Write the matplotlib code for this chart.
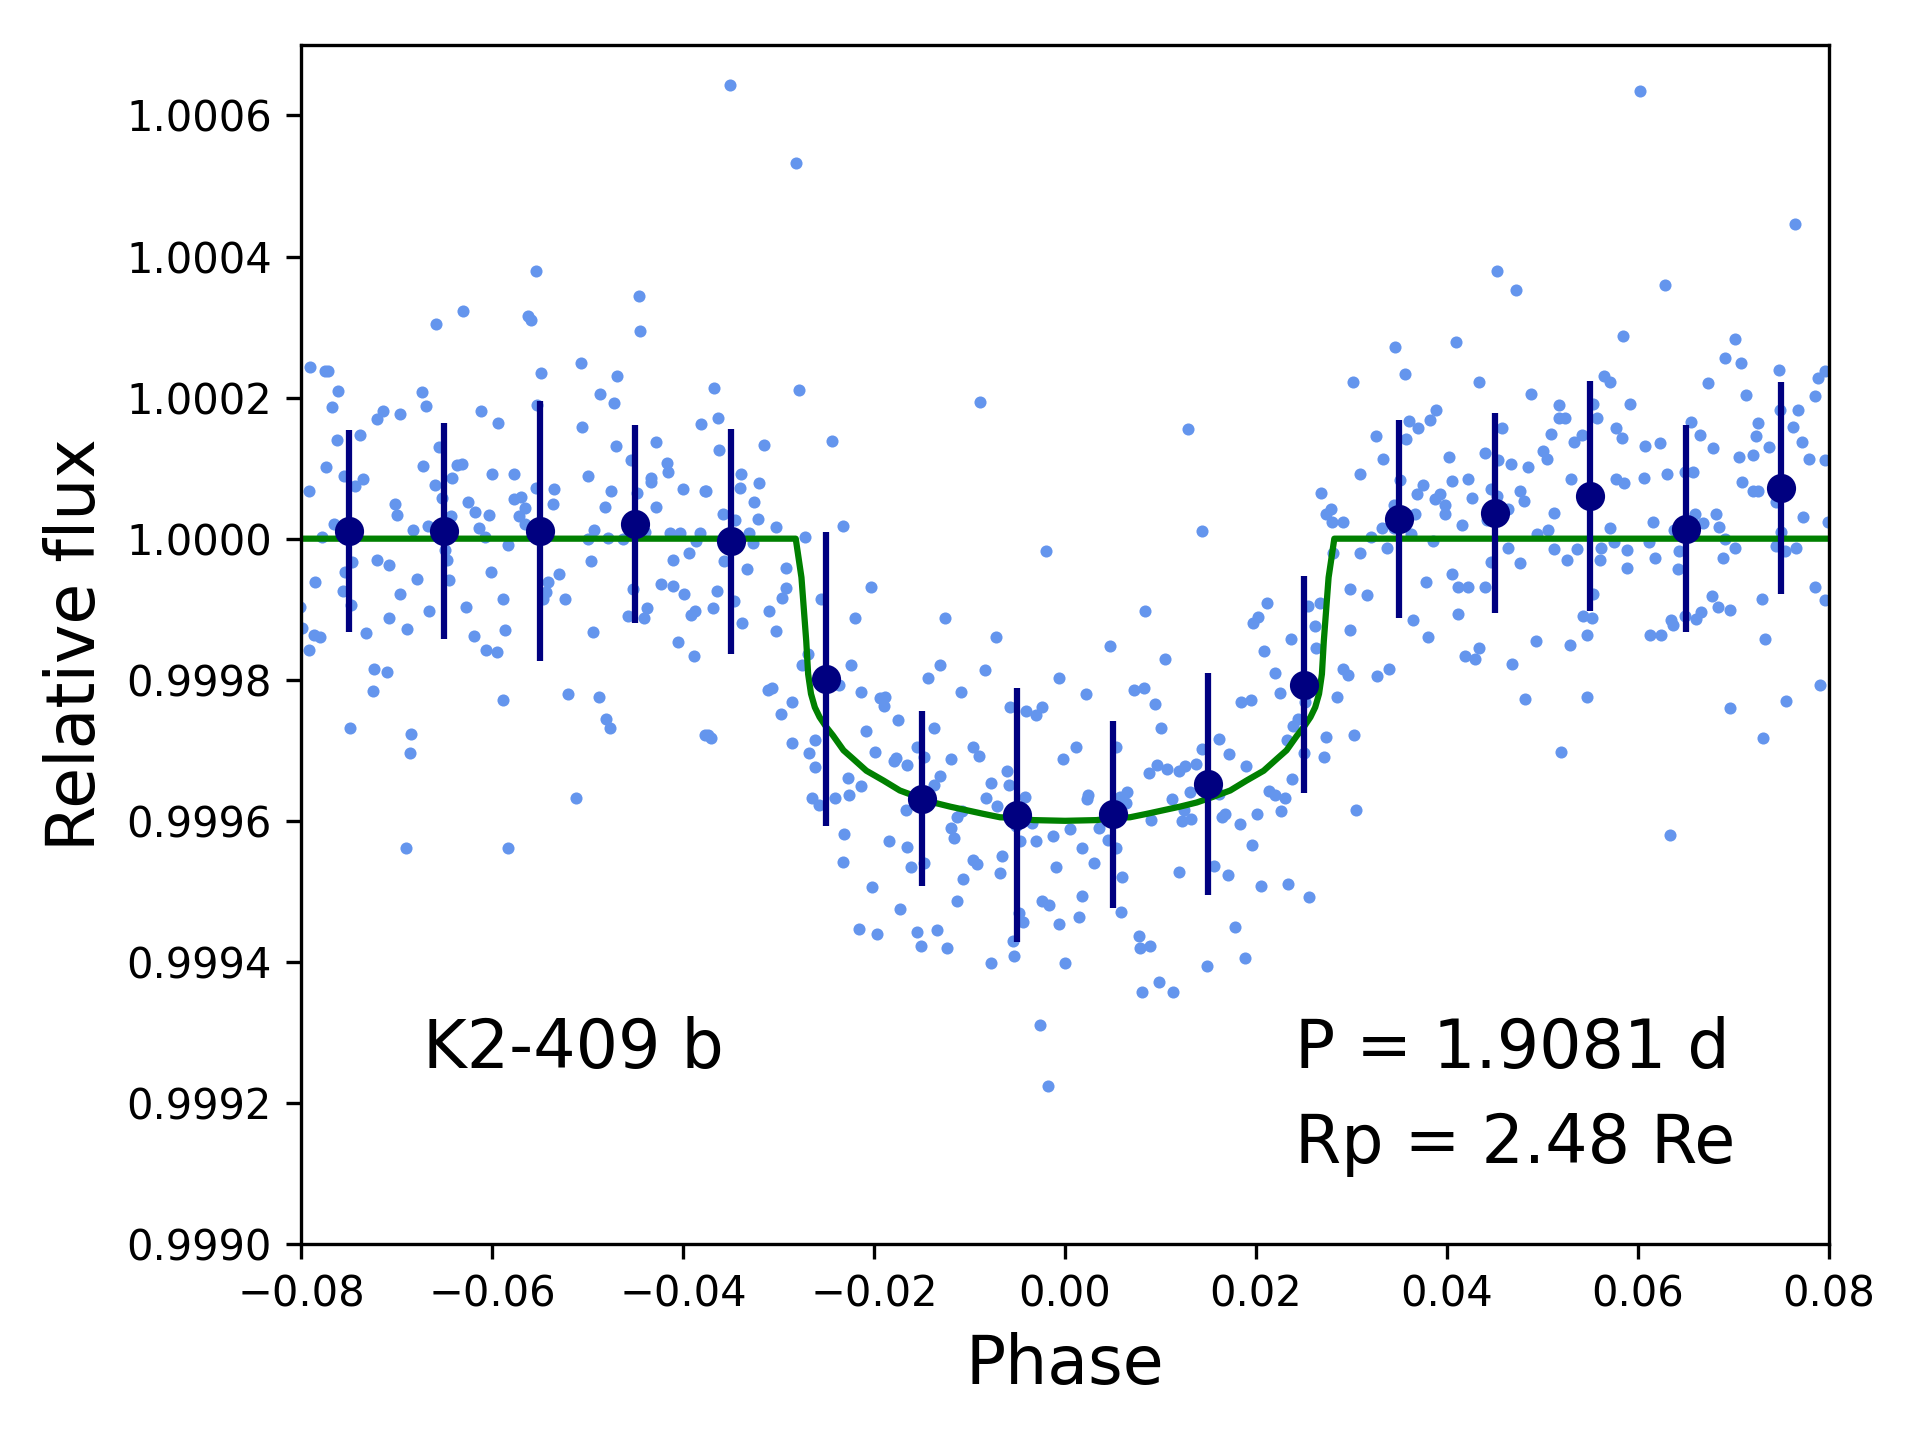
import matplotlib
matplotlib.use('Agg')

import numpy as np
import matplotlib.pyplot as plt
from matplotlib.ticker import FormatStrFormatter

# phase-folded light curve, flux given as deviation in ppm
phase = [
    -0.0554, -0.0446, -0.0630, -0.0659, -0.0562, -0.0559, -0.0445, -0.0791, -0.0775, -0.0772,
    -0.0549, -0.0507, -0.0469, -0.0761, -0.0673, -0.0487, -0.0768, -0.0669, -0.0612, -0.0472,
    -0.0553, -0.0714, -0.0720, -0.0696, -0.0594, -0.0506, -0.0381, -0.0762, -0.0738, -0.0656,
    -0.0470, -0.0428, -0.0454, -0.0774, -0.0672, -0.0637, -0.0631, -0.0600, -0.0577, -0.0499,
    -0.0417, -0.0416, -0.0755, -0.0743, -0.0735, -0.0642, -0.0660, -0.0434, -0.0434, -0.0792,
    -0.0554, -0.0535, -0.0475, -0.0448, -0.0400, -0.0377, -0.0702, -0.0700, -0.0652, -0.0625,
    -0.0618, -0.0603, -0.0577, -0.0570, -0.0565, -0.0572, -0.0565, -0.0536, -0.0482, -0.0428,
    -0.0766, -0.0683, -0.0667, -0.0643, -0.0614, -0.0607, -0.0493, -0.0500, -0.0479, -0.0463,
    -0.0440, -0.0414, -0.0403, -0.0382, -0.0386, -0.0778, -0.0583, -0.0649, -0.0647, -0.0747,
    -0.0754, -0.0720, -0.0708, -0.0601, -0.0496, -0.0411, -0.0394, -0.0530, -0.0541, -0.0543,
    -0.0547, -0.0524, -0.0589, -0.0679, -0.0645, -0.0785, -0.0423, -0.0410, -0.0399, -0.0452,
    -0.0756, -0.0748, -0.0696, -0.0666, -0.0627, -0.0438, -0.0458, -0.0441, -0.0392, -0.0387,
    -0.0708, -0.0799, -0.0786, -0.0780, -0.0732, -0.0689, -0.0586, -0.0619, -0.0494, -0.0405,
    -0.0792, -0.0606, -0.0595, -0.0801,
    -0.0351, -0.0282,
    -0.0389, -0.0724, -0.0710, -0.0725, -0.0589, -0.0520, -0.0488, -0.0481, -0.0476, -0.0749,
    -0.0685, -0.0686, -0.0377, -0.0512, -0.0690, -0.0583,
    -0.0368, -0.0279, -0.0089, -0.0363, -0.0315, -0.0244, -0.0362, -0.0339, -0.0340, -0.0320,
    -0.0376, -0.0326, -0.0358, -0.0346, -0.0321, -0.0303, -0.0233, -0.0331, -0.0327, -0.0272,
    -0.0020, -0.0357, -0.0333, -0.0292, -0.0203, -0.0364, -0.0292, -0.0296, -0.0256, -0.0347,
    -0.0369, -0.0310, -0.0220, -0.0126, -0.0338, -0.0303, -0.0072, 0.0047,
    -0.0269, -0.0275, -0.0224, -0.0131, -0.0144, -0.0084, -0.0006, -0.0237, -0.0311, -0.0307,
    -0.0286, -0.0214, -0.0194, -0.0189, -0.0190, -0.0109, 0.0022, -0.0058, -0.0041, -0.0030,
    -0.0024, -0.0297, -0.0175, -0.0137, -0.0374, -0.0371, -0.0208, -0.0286, -0.0262, -0.0268,
    -0.0262, -0.0199, -0.0179, -0.0177, -0.0165, -0.0155, -0.0148, -0.0119, -0.0096, -0.0090,
    0.0012, -0.0002, -0.0227, -0.0214, -0.0131, -0.0137, -0.0061, -0.0059, -0.0078, -0.0042,
    0.0024, 0.0023, -0.0265, -0.0258, -0.0241, -0.0226, -0.0083, -0.0071, -0.0167, -0.0113,
    -0.0108, -0.0119, -0.0116, -0.0051, -0.0035, -0.0047, -0.0030, -0.0013, 0.0005, 0.0036,
    0.0045, -0.0231, -0.0184, -0.0166, -0.0232, -0.0161, -0.0148, -0.0096, -0.0092, -0.0066,
    -0.0068, -0.0009, 0.0018, 0.0030, -0.0202, -0.0107, -0.0113, -0.0173, -0.0024, -0.0017,
    0.0018, -0.0048, -0.0044, -0.0006, 0.0015, -0.0216, -0.0197, -0.0155, -0.0134, -0.0151,
    -0.0124, -0.0054, -0.0053, -0.0077, 0.0000, -0.0026, -0.0018,
    0.0105, 0.0208, 0.0263, 0.0419, 0.0429, 0.0434, 0.0468, 0.0291, 0.0296, 0.0327,
    0.0339, 0.0220, 0.0225, 0.0285, 0.0072, 0.0083, 0.0094, 0.0184, 0.0195, 0.0251,
    0.0101, 0.0244, 0.0239, 0.0232, 0.0273, 0.0303, 0.0053, 0.0161, 0.0143, 0.0172,
    0.0250, 0.0271, 0.0190, 0.0096, 0.0088, 0.0107, 0.0119, 0.0126, 0.0137, 0.0238,
    0.0065, 0.0058, 0.0064, 0.0112, 0.0131, 0.0161, 0.0214, 0.0220, 0.0230, 0.0226,
    0.0305, 0.0090, 0.0125, 0.0123, 0.0132, 0.0164, 0.0167, 0.0183, 0.0201, 0.0053,
    0.0196, 0.0119, 0.0156, 0.0171, 0.0205, 0.0233, 0.0256, 0.0060, 0.0059, 0.0077,
    0.0078, 0.0089, 0.0178, 0.0188, 0.0149, 0.0098, 0.0081, 0.0113,
    0.0346, 0.0409, 0.0356, 0.0302, 0.0433, 0.0388, 0.0360, 0.0370, 0.0382, 0.0357,
    0.0326, 0.0458, 0.0129, 0.0333, 0.0402, 0.0440, 0.0453, 0.0467, 0.0309, 0.0351,
    0.0405, 0.0422, 0.0375, 0.0369, 0.0393, 0.0387, 0.0426, 0.0446, 0.0452, 0.0398,
    0.0398, 0.0344, 0.0367, 0.0464, 0.0442, 0.0268, 0.0278, 0.0273, 0.0280, 0.0291,
    0.0332, 0.0344, 0.0320, 0.0362, 0.0385, 0.0416, 0.0281, 0.0309, 0.0337, 0.0464,
    0.0446, 0.0143, 0.0378, 0.0405, 0.0412, 0.0422, 0.0440, 0.0298, 0.0316, 0.0411,
    0.0364, 0.0298, 0.0380, 0.0084, 0.0212, 0.0202, 0.0197, 0.0254, 0.0267, 0.0262,
    0.0237,
    0.0602, 0.0764, 0.0452, 0.0472, 0.0628, 0.0584, 0.0702,
    0.0691, 0.0708, 0.0748, 0.0796, 0.0789, 0.0785, 0.0673, 0.0713, 0.0564, 0.0571,
    0.0488, 0.0517, 0.0553, 0.0592, 0.0517, 0.0524, 0.0557, 0.0749, 0.0768, 0.0655,
    0.0726, 0.0762, 0.0509, 0.0541, 0.0533, 0.0577, 0.0583, 0.0665, 0.0724, 0.0772,
    0.0500, 0.0505, 0.0485, 0.0607, 0.0623, 0.0679, 0.0706, 0.0720, 0.0737, 0.0779,
    0.0796, 0.0530, 0.0577, 0.0585, 0.0606, 0.0630, 0.0649, 0.0658, 0.0709, 0.0720,
    0.0726, 0.0476, 0.0481, 0.0512, 0.0744, 0.0616, 0.0660, 0.0668, 0.0682, 0.0685,
    0.0773, 0.0799, 0.0494, 0.0506, 0.0571, 0.0638, 0.0750, 0.0691, 0.0575, 0.0512,
    0.0536, 0.0561, 0.0589, 0.0612, 0.0643, 0.0702, 0.0744, 0.0754, 0.0765, 0.0476,
    0.0526, 0.0560, 0.0618, 0.0689, 0.0589, 0.0642, 0.0553, 0.0678, 0.0785, 0.0796,
    0.0730, 0.0684, 0.0696, 0.0666, 0.0542, 0.0552, 0.0649, 0.0635,
    0.0661, 0.0637, 0.0493, 0.0529, 0.0547, 0.0613, 0.0624, 0.0733, 0.0482, 0.0547,
    0.0791, 0.0755, 0.0696, 0.0731, 0.0519, 0.0633,
]
flux_ppm = [
    380, 344, 323, 304, 316, 310, 295, 244, 238, 238,
    235, 249, 230, 209, 208, 205, 186, 188, 181, 192,
    190, 181, 170, 177, 164, 158, 162, 140, 147, 130,
    131, 137, 112, 102, 103, 104, 106, 92, 92, 89,
    107, 95, 89, 75, 84, 86, 76, 86, 81, 67,
    72, 71, 68, 65, 71, 68, 49, 34, 58, 52,
    38, 34, 56, 59, 44, 32, 21, 49, 45, 45,
    21, 13, 18, 32, 15, 2, 13, -1, 1, -1,
    9, 8, 8, 8, -4, 2, -9, -16, -30, -33,
    -47, -30, -38, -47, -32, -30, -21, -50, -62, -76,
    -85, -86, -85, -57, -59, -62, -64, -67, -79, -71,
    -74, -94, -78, -102, -97, -98, -110, -113, -108, -103,
    -112, -127, -136, -139, -134, -128, -130, -138, -132, -147,
    -158, -158, -160, -97,
    643, 532,
    -166, -185, -189, -216, -229, -220, -224, -255, -268, -268,
    -277, -304, -279, -367, -438, -438,
    214, 211, 194, 171, 133, 138, 126, 91, 72, 79,
    68, 52, 35, 27, 28, 17, 18, 8, -6, 2,
    -18, -31, -43, -41, -68, -74, -70, -84, -86, -88,
    -98, -102, -113, -112, -120, -131, -139, -152,
    -163, -179, -179, -179, -198, -186, -197, -207, -215, -212,
    -231, -218, -226, -224, -237, -217, -220, -238, -244, -250,
    -238, -249, -257, -268, -279, -282, -273, -290, -285, -304,
    -324, -302, -315, -311, -321, -295, -309, -312, -296, -308,
    -296, -313, -339, -351, -336, -349, -330, -349, -346, -366,
    -364, -369, -368, -378, -367, -364, -367, -379, -385, -395,
    -386, -410, -424, -408, -403, -428, -428, -421, -412, -410,
    -427, -418, -428, -437, -458, -465, -460, -456, -461, -450,
    -474, -465, -438, -460, -494, -483, -513, -525, -514, -520,
    -506, -531, -543, -547, -537, -553, -560, -557, -555, -577,
    -581, -570, -592, -602, -602, -689, -776,
    -171, -159, -155, -166, -171, -155, -178, -185, -193, -194,
    -185, -190, -219, -224, -214, -212, -235, -232, -229, -231,
    -268, -256, -266, -286, -281, -278, -296, -284, -298, -305,
    -304, -309, -323, -321, -332, -327, -329, -323, -319, -341,
    -359, -366, -375, -369, -359, -362, -358, -363, -368, -386,
    -384, -399, -385, -400, -397, -395, -390, -404, -391, -438,
    -435, -472, -464, -477, -492, -489, -508, -480, -529, -564,
    -580, -577, -551, -594, -606, -629, -642, -642,
    272, 279, 233, 222, 222, 183, 167, 157, 168, 141,
    146, 157, 155, 113, 116, 122, 112, 106, 92, 83,
    82, 85, 76, 64, 64, 56, 58, 70, 60, 48,
    35, 48, 35, 42, 27, 65, 42, 35, 24, 24,
    15, 15, 2, 7, -3, 20, -20, -20, -13, -13,
    -33, 11, -62, -50, -68, -69, -69, -71, -80, -107,
    -115, -129, -140, -102, -91, -111, -120, -96, -91, -124,
    -142,
    635, 446, 379, 352, 359, 287, 283,
    256, 249, 239, 238, 228, 202, 221, 204, 230, 222,
    205, 189, 191, 191, 171, 171, 171, 183, 183, 165,
    164, 159, 148, 147, 137, 157, 143, 147, 146, 137,
    125, 113, 101, 132, 136, 129, 116, 119, 130, 113,
    112, 85, 84, 79, 86, 91, 94, 94, 81, 67,
    67, 67, 53, 37, 52, 23, 35, 22, 35, 17,
    31, 24, 7, 12, 15, 12, 10, -1, -5, -14,
    -14, -13, -16, -5, -18, -13, -11, -18, -13, -35,
    -30, -30, -27, -27, -41, -43, -78, -81, -68, -87,
    -85, -97, -101, -104, -110, -113, -109, -116,
    -114, -122, -145, -151, -136, -136, -136, -142, -227, -224,
    -207, -230, -240, -282, -302, -420,
]

# binned points
bin_phase = [-0.075, -0.065, -0.055, -0.045, -0.035, -0.025, -0.015, -0.005,
             0.005, 0.015, 0.025, 0.035, 0.045, 0.055, 0.065, 0.075]
bin_ppm = [11, 11, 11, 21, -4, -199, -369, -392, -391, -348, -207, 28, 36, 60, 14, 72]
bin_err = [143, 153, 184, 140, 160, 209, 124, 180, 133, 157, 154, 140, 142, 163, 147, 150]

# transit model
model_phase = [-0.08, -0.0282, -0.0276, -0.0271, -0.0269, -0.0266, -0.0262, -0.0257,
               -0.0250, -0.0243, -0.0232, -0.0222, -0.0208, -0.0190, -0.0173, -0.0155,
               -0.0138, -0.0120, -0.0103, -0.0086, -0.0068, -0.0051, -0.0033, 0.0,
               0.0033, 0.0051, 0.0068, 0.0086, 0.0103, 0.0120, 0.0138, 0.0155,
               0.0173, 0.0190, 0.0208, 0.0222, 0.0232, 0.0243, 0.0250, 0.0257,
               0.0262, 0.0266, 0.0269, 0.0271, 0.0276, 0.0282, 0.08]
model_ppm = [0, 0, -55, -145, -192, -220, -239, -253,
             -267, -279, -300, -312, -329, -343, -357, -366,
             -374, -380, -385, -390, -395, -396, -399, -400,
             -399, -396, -395, -390, -385, -380, -374, -366,
             -357, -343, -329, -312, -300, -279, -267, -253,
             -239, -220, -192, -145, -55, 0, 0]

flux = 1 + np.array(flux_ppm) * 1e-6
bin_flux = 1 + np.array(bin_ppm) * 1e-6
bin_sig = np.array(bin_err) * 1e-6
model_flux = 1 + np.array(model_ppm) * 1e-6

fig = plt.figure(figsize=(6.4, 4.8), dpi=300)
ax = fig.add_axes([0.1568, 0.1361, 0.7958, 0.8327])

ax.plot(phase, flux, 'o', color='cornflowerblue', ms=2.9, mew=0, zorder=1)
ax.plot(model_phase, model_flux, color='green', lw=1.5, zorder=2)
ax.errorbar(bin_phase, bin_flux, yerr=bin_sig, fmt='o', color='navy',
            ms=6, elinewidth=1.5, capsize=0, zorder=3)

ax.set_xlim(-0.08, 0.08)
ax.set_ylim(0.999, 1.0007)
ax.set_xticks(np.arange(-0.08, 0.081, 0.02))
ax.set_yticks(np.arange(0.999, 1.00065, 0.0002))
ax.yaxis.set_major_formatter(FormatStrFormatter('%.4f'))

ax.set_xlabel('Phase', fontsize=16)
ax.set_ylabel('Relative flux', fontsize=16)

ax.text(-0.0672, 0.99925, 'K2-409 b', fontsize=16)
ax.text(0.0241, 0.99925, 'P = 1.9081 d', fontsize=16)
ax.text(0.0241, 0.999115, 'Rp = 2.48 Re', fontsize=16)

fig.savefig('out.png', dpi=300)
